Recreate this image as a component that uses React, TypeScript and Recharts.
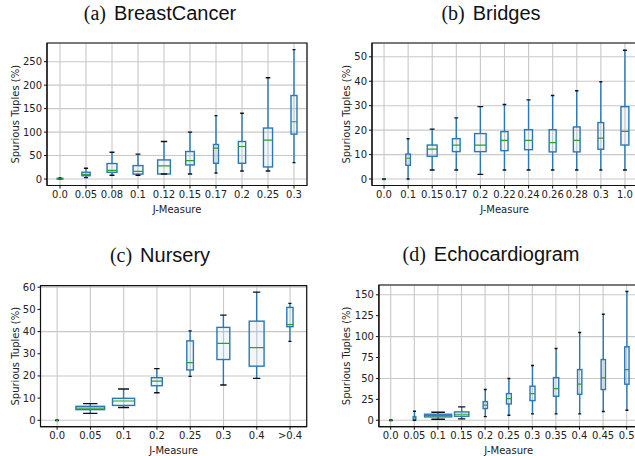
import React from "react";
import { ComposedChart, Bar, XAxis, YAxis, CartesianGrid, ReferenceArea } from "recharts";

// ---- (a) BreastCancer
const aCats = ["0.0", "0.05", "0.08", "0.1", "0.12", "0.15", "0.17", "0.2", "0.25", "0.3"];
const aMin = [0, 3, 8, 8, 10.7, 10.7, 12.9, 17, 17, 35];
const aQ1 = [0, 7, 14.3, 10.5, 10.7, 30, 33.6, 33.6, 25.7, 95.7];
const aMed = [0.5, 10, 18.6, 16.4, 27.9, 39.3, 65.7, 69.3, 82.9, 122];
const aQ3 = [1.5, 14.5, 33, 28.6, 40.7, 58.6, 73.6, 80, 108.6, 177.9];
const aMax = [2.5, 23, 57, 53, 80, 100, 135, 140, 215.7, 275.7];
const aTicks = [0, 50, 100, 150, 200, 250];

// ---- (b) Bridges
const bCats = ["0.0", "0.1", "0.15", "0.17", "0.2", "0.22", "0.24", "0.26", "0.28", "0.3", "1.0"];
const bMin = [0, 0, 3.7, 3.7, 1.9, 3.7, 3.7, 3.7, 3.7, 3.7, 3.7];
const bQ1 = [0, 5.6, 9.3, 11.2, 11.2, 11.6, 12.0, 11.1, 11.1, 12.2, 13.9];
const bMed = [0, 8.5, 12.2, 13.9, 13.9, 15.8, 15.8, 14.9, 15.8, 16.7, 19.5];
const bQ3 = [0, 10.2, 13.9, 16.5, 18.6, 19.4, 20.2, 20.2, 21.3, 23.1, 29.6];
const bMax = [0, 16.5, 20.4, 25, 29.6, 30.5, 32.4, 34.2, 36.1, 39.8, 52.7];
const bTicks = [0, 10, 20, 30, 40, 50];

// ---- (c) Nursery
const cCats = ["0.0", "0.05", "0.1", "0.2", "0.25", "0.3", "0.4", ">0.4"];
const cMin = [0, 3.1, 5.8, 12.4, 19.8, 15.9, 18.9, 35.6];
const cQ1 = [0, 4.8, 6.7, 15.6, 22.7, 27.4, 24.4, 42.2];
const cMed = [0, 5.5, 8.7, 17.7, 26, 34.7, 32.8, 43.1];
const cQ3 = [0, 6.3, 9.9, 19.2, 35.8, 41.9, 44.7, 50.9];
const cMax = [0, 7.5, 14.1, 23.3, 40.3, 47.4, 57.8, 52.7];
const cTicks = [0, 10, 20, 30, 40, 50, 60];

// ---- (d) Echocardiogram
const dCats = ["0.0", "0.05", "0.1", "0.15", "0.2", "0.25", "0.3", "0.35", "0.4", "0.45", "0.5"];
const dMin = [0, 0, 1.2, 1.6, 4.4, 6, 7.6, 7.6, 7.6, 10.4, 12];
const dQ1 = [0, 0, 4, 4.8, 14, 19.5, 23.5, 28.7, 31.1, 36.7, 43.1];
const dMed = [0, 2.8, 5.6, 7.2, 18, 25.9, 31.9, 37.9, 43.1, 50.7, 60.6];
const dQ3 = [0, 4.4, 7.2, 10, 22.3, 31.9, 40.7, 51, 60.6, 72.6, 87.8];
const dMax = [0, 10.8, 9.6, 16, 36.7, 49.9, 65.4, 85.8, 104.9, 126.8, 154];
const dTicks = [0, 25, 50, 75, 100, 125, 150];

// relative box widths (fraction of category band), varies per box in the original
const aWidths = [0.22, 0.32, 0.38, 0.38, 0.49, 0.33, 0.19, 0.28, 0.35, 0.23];
const bWidths = [0.1, 0.19, 0.41, 0.32, 0.48, 0.3, 0.33, 0.29, 0.28, 0.24, 0.33];
const cWidths = [0.06, 0.87, 0.67, 0.33, 0.2, 0.39, 0.45, 0.19];
const dWidths = [0.06, 0.11, 1.13, 0.6, 0.18, 0.2, 0.21, 0.22, 0.18, 0.18, 0.18];

const FONT = "'DejaVu Sans', sans-serif";
const BLUE = "#2a78b5";
const GREEN = "#2ca02c";

type Row = { cat: string; min: number; q1: number; med: number; q3: number; max: number };

const buildRows = (cats: string[], mn: number[], q1: number[], md: number[], q3: number[], mx: number[]): Row[] =>
  cats.map((c, i) => ({ cat: c, min: mn[i], q1: q1[i], med: md[i], q3: q3[i], max: mx[i] }));

// draws one box plot from the range bar [min, max] that recharts positions for us
const makeBoxShape = (rows: Row[], widths: number[]) => (props: any) => {
  const { x, y, width, height, index } = props;
  const r = rows[index];
  if (!r || x == null || y == null) return <g />;
  const top = Math.min(y, y + height);
  const bot = Math.max(y, y + height);
  const span = r.max - r.min;
  const py = (v: number) => (span > 0 ? bot - ((v - r.min) / span) * (bot - top) : top);
  const cx = x + width / 2;
  const bw = Math.max(width * widths[index], 2);
  const cw = Math.max(bw / 2, 3);
  const yq1 = py(r.q1);
  const yq3 = py(r.q3);
  const ymed = py(r.med);
  return (
    <g>
      <line x1={cx} x2={cx} y1={py(r.max)} y2={yq3} stroke={BLUE} strokeWidth={1.4} />
      <line x1={cx} x2={cx} y1={yq1} y2={py(r.min)} stroke={BLUE} strokeWidth={1.4} />
      <rect x={cx - bw / 2} y={yq3} width={bw} height={Math.max(yq1 - yq3, 0.5)} fill="rgba(31,119,180,0.06)" stroke={BLUE} strokeWidth={1.4} />
      <line x1={cx - cw / 2} x2={cx + cw / 2} y1={py(r.max)} y2={py(r.max)} stroke="#111" strokeWidth={1.4} />
      <line x1={cx - cw / 2} x2={cx + cw / 2} y1={py(r.min)} y2={py(r.min)} stroke="#111" strokeWidth={1.4} />
      <line x1={cx - bw / 2} x2={cx + bw / 2} y1={ymed} y2={ymed} stroke={GREEN} strokeWidth={1.2} />
    </g>
  );
};

type PanelProps = {
  rows: Row[];
  widths: number[];
  ticks: number[];
  domain: [number, number];
  width: number;
  height: number;
  margin: { top: number; right: number; bottom: number; left: number };
  yAxisWidth: number;
  yLabelOffset: number;
};

function BoxPanel({ rows, widths, ticks, domain, width, height, margin, yAxisWidth, yLabelOffset }: PanelProps) {
  const data = rows.map((r) => ({ ...r, range: [r.min, r.max] }));
  const tickStyle = { fontSize: 10, fill: "#222", fontFamily: FONT };
  return (
    <ComposedChart width={width} height={height} data={data} margin={margin} barCategoryGap="0%" barGap={0}>
      <CartesianGrid stroke="#c8c8c8" strokeWidth={1.1} />
      <XAxis
        dataKey="cat"
        interval={0}
        height={29}
        tick={tickStyle}
        tickSize={3}
        tickMargin={2}
        stroke="#111"
        tickLine={{ stroke: "#111" }}
        label={{ value: "J-Measure", position: "insideBottom", offset: 2, fontSize: 10, fill: "#222", fontFamily: FONT }}
      />
      <YAxis
        type="number"
        domain={domain}
        ticks={ticks}
        allowDataOverflow
        width={yAxisWidth}
        tick={tickStyle}
        tickSize={3}
        tickMargin={2}
        stroke="#111"
        label={{
          value: "Spurious Tuples (%)",
          angle: -90,
          position: "insideLeft",
          offset: yLabelOffset,
          fontSize: 10,
          fill: "#222",
          fontFamily: FONT,
          style: { textAnchor: "middle" },
        }}
      />
      <Bar dataKey="range" isAnimationActive={false} shape={makeBoxShape(rows, widths)} />
      <ReferenceArea y1={domain[0]} y2={domain[1]} fill="none" stroke="#111" strokeWidth={1.2} ifOverflow="visible" />
    </ComposedChart>
  );
}

function Title({ tag, name, cx, top }: { tag: string; name: string; cx: number; top: number }) {
  return (
    <div style={{ position: "absolute", left: cx - 160, top, width: 320, textAlign: "center", fontSize: 20, lineHeight: "24px", color: "#111", whiteSpace: "nowrap" }}>
      <span style={{ fontFamily: "'Liberation Serif', serif" }}>{tag}</span>
      <span style={{ fontFamily: "'Liberation Sans', Arial, sans-serif", marginLeft: 8 }}>{name}</span>
    </div>
  );
}

export default function App() {
  const aRows = buildRows(aCats, aMin, aQ1, aMed, aQ3, aMax);
  const bRows = buildRows(bCats, bMin, bQ1, bMed, bQ3, bMax);
  const cRows = buildRows(cCats, cMin, cQ1, cMed, cQ3, cMax);
  const dRows = buildRows(dCats, dMin, dQ1, dMed, dQ3, dMax);

  return (
    <div style={{ position: "absolute", left: 0, top: 0, width: 635, height: 456, overflow: "hidden", background: "#fff" }}>
      <Title tag="(a)" name="BreastCancer" cx={160} top={1} />
      <Title tag="(b)" name="Bridges" cx={491} top={1} />
      <Title tag="(c)" name="Nursery" cx={160} top={243} />
      <Title tag="(d)" name="Echocardiogram" cx={491} top={242} />

      <div style={{ position: "absolute", left: 0, top: 0 }}>
        <BoxPanel rows={aRows} widths={aWidths} ticks={aTicks} domain={[-13.8, 289.8]} width={317} height={230}
          margin={{ top: 43, right: 10, bottom: 15.5, left: 5 }} yAxisWidth={42} yLabelOffset={10} />
      </div>
      <div style={{ position: "absolute", left: 318, top: 0 }}>
        <BoxPanel rows={bRows} widths={bWidths} ticks={bTicks} domain={[-2.65, 55.65]} width={330} height={230}
          margin={{ top: 43, right: 11, bottom: 15.5, left: 18 }} yAxisWidth={36} yLabelOffset={10.7} />
      </div>
      <div style={{ position: "absolute", left: 0, top: 235 }}>
        <BoxPanel rows={cRows} widths={cWidths} ticks={cTicks} domain={[-2.89, 60.69]} width={317} height={221}
          margin={{ top: 50.7, right: 10.3, bottom: 0.3, left: 5 }} yAxisWidth={35.5} yLabelOffset={10} />
      </div>
      <div style={{ position: "absolute", left: 318, top: 235 }}>
        <BoxPanel rows={dRows} widths={dWidths} ticks={dTicks} domain={[-7.7, 161.7]} width={330} height={221}
          margin={{ top: 50, right: 9.5, bottom: 0.3, left: 18 }} yAxisWidth={42.9} yLabelOffset={10.7} />
      </div>
    </div>
  );
}
